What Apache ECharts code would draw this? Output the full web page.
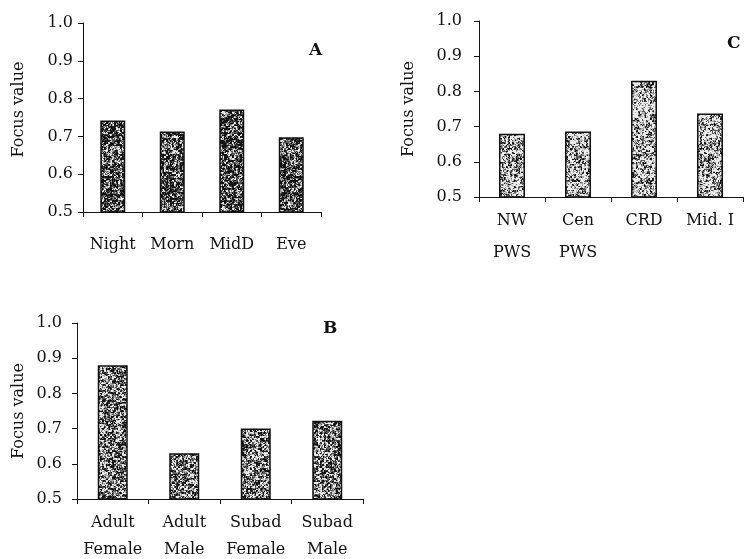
<!DOCTYPE html>
<html>
<head>
<meta charset="utf-8">
<script src="https://cdn.jsdelivr.net/npm/echarts@6/dist/echarts.min.js"></script>
<style>
  html, body { margin: 0; padding: 0; background: #fff; }
  #chart { width: 744px; height: 559px; }
</style>
</head>
<body>
<div id="chart"></div>
<script>
// Panel A: time of day
const catsA = ['Night', 'Morn', 'MidD', 'Eve'];
const valsA = [0.742, 0.713, 0.771, 0.698];
// Panel B: age / sex class
const catsB = ['Adult\nFemale', 'Adult\nMale', 'Subad\nFemale', 'Subad\nMale'];
const valsB = [0.88, 0.63, 0.70, 0.722];
// Panel C: region
const catsC = ['NW\nPWS', 'Cen\nPWS', 'CRD', 'Mid. I'];
const valsC = [0.68, 0.686, 0.83, 0.737];
// Shared value axis
const yMin = 0.5, yMax = 1.0, yStep = 0.1;
const yName = 'Focus value';

const FONT = 'DejaVu Serif';

// Stippled grey fill for the bars (deterministic hash, so it is the same every time)
function hash(x, y, s) {
  let h = Math.imul(x + 1, 374761393) ^ Math.imul(y + 7, 668265263) ^ Math.imul(s + 3, 2246822519);
  h = Math.imul(h ^ (h >>> 13), 1274126177);
  h ^= h >>> 16;
  return (h >>> 0) / 4294967296;
}
function stipple(darkness, seed) {
  const size = 96;
  const c = document.createElement('canvas');
  c.width = size; c.height = size;
  const ctx = c.getContext('2d');
  const img = ctx.createImageData(size, size);
  for (let y = 0; y < size; y++) {
    for (let x = 0; x < size; x++) {
      const v = 0.45 * hash(x, y, seed) + 0.55 * hash(x >> 1, y >> 1, seed + 11);
      let g;
      if (v < darkness - 0.15) g = 20;
      else if (v < darkness) g = 90;
      else if (v < darkness + 0.12) g = 170;
      else g = 235;
      const i = (y * size + x) * 4;
      img.data[i] = g; img.data[i + 1] = g; img.data[i + 2] = g; img.data[i + 3] = 255;
    }
  }
  ctx.putImageData(img, 0, 0);
  return { image: c, repeat: 'repeat' };
}

const tickText = { fontFamily: FONT, fontSize: 16, color: '#111' };
const lineStyle = { color: '#111', width: 1 };

function panel(idx, g, cats, yLabelMargin, xLabelMargin, lineHeight, nameGap, nameShift) {
  return {
    grid: {
      left: g.left, top: g.top, width: g.width, height: g.height,
      containLabel: false, outerBoundsMode: 'none'
    },
    xAxis: {
      gridIndex: idx, type: 'category', data: cats,
      axisLine: { show: true, onZero: false, lineStyle: lineStyle },
      axisTick: { show: true, length: 5, alignWithLabel: false, lineStyle: lineStyle },
      axisLabel: Object.assign({ margin: xLabelMargin, lineHeight: lineHeight, interval: 0 }, tickText),
      splitLine: { show: false }
    },
    yAxis: {
      gridIndex: idx, type: 'value', min: yMin, max: yMax, interval: yStep,
      name: yName, nameLocation: 'middle', nameGap: nameGap, nameRotate: 90,
      nameTextStyle: {
        fontFamily: FONT, fontSize: 16, color: '#111',
        padding: nameShift > 0 ? [0, 0, 0, nameShift] : [0, -nameShift, 0, 0]
      },
      axisLine: { show: true, lineStyle: lineStyle },
      axisTick: { show: true, length: 5, lineStyle: lineStyle },
      axisLabel: Object.assign({ margin: yLabelMargin, formatter: v => v.toFixed(1) }, tickText),
      splitLine: { show: false }
    }
  };
}

const pA = panel(0, { left: 83, top: 23, width: 238, height: 189 }, catsA, 10, 23, 20, 56, 16);
const pC = panel(1, { left: 479, top: 21, width: 264, height: 176 }, catsC, 17, 8, 32, 62, 0);
const pB = panel(2, { left: 77, top: 323, width: 286, height: 176 }, catsB, 15, 10, 27, 50, 0);

function bars(idx, vals, width, fill) {
  return {
    type: 'bar', xAxisIndex: idx, yAxisIndex: idx, data: vals, barWidth: width,
    itemStyle: { color: fill, borderColor: '#111', borderWidth: 1.5 },
    silent: true, animation: false
  };
}

const panelTitle = (text, left, top) => ({
  text: text, left: left, top: top, padding: 0,
  textStyle: { fontFamily: FONT, fontSize: 17, fontWeight: 'bold', color: '#111' }
});

const chart = echarts.init(document.getElementById('chart'), null, { renderer: 'canvas' });
chart.setOption({
  backgroundColor: '#fff',
  animation: false,
  title: [panelTitle('A', 309, 42), panelTitle('C', 727, 35), panelTitle('B', 323, 320)],
  grid: [pA.grid, pC.grid, pB.grid],
  xAxis: [pA.xAxis, pC.xAxis, pB.xAxis],
  yAxis: [pA.yAxis, pC.yAxis, pB.yAxis],
  series: [
    bars(0, valsA, 25, stipple(0.62, 1)),
    bars(1, valsC, 26, stipple(0.42, 2)),
    bars(2, valsB, 30, stipple(0.52, 3))
  ]
});
</script>
</body>
</html>
